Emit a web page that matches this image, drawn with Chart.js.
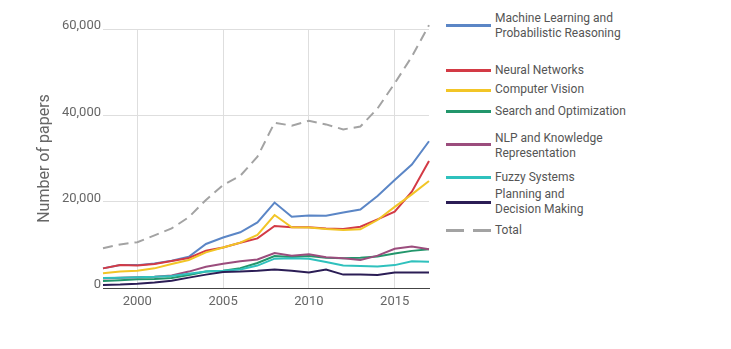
<!DOCTYPE html>
<html><head><meta charset="utf-8">
<script src="https://cdn.jsdelivr.net/npm/chart.js@4.4.0/dist/chart.umd.min.js"></script>
<style>
html,body{margin:0;padding:0;background:#fff;}
#wrap{position:relative;width:731px;height:349px;}
#cv{position:absolute;left:0;top:0;}
.lg{position:absolute;left:495px;font-family:Roboto,sans-serif;font-size:12px;line-height:14.5px;color:#555;white-space:nowrap;}
.ln{position:absolute;left:446px;width:45px;height:3px;}
</style></head><body>
<div id="wrap"><div id="box" style="position:absolute;left:0;top:0;width:440px;height:349px;"><canvas id="cv"></canvas></div></div>
<script>
const years = [1998,1999,2000,2001,2002,2003,2004,2005,2006,2007,2008,2009,2010,2011,2012,2013,2014,2015,2016,2017];
const mlProb   = [4550,5300,5300,5700,6300,7250,10200,11700,12900,15200,19800,16500,16800,16750,17500,18200,21300,25000,28600,34000];
const neural   = [4550,5300,5200,5550,6250,6950,8650,9400,10500,11500,14350,14100,14050,13800,13650,14200,15900,17700,22300,29400];
const vision   = [3400,3800,4000,4550,5550,6500,8250,9400,10500,12300,16900,14050,14000,13650,13450,13600,15750,18800,21700,24800];
const search   = [1600,1800,2000,2100,2300,3000,3800,4000,4600,5800,7400,7200,7400,7000,6900,7000,7300,8000,8600,9000];
const nlp      = [2200,2400,2500,2600,2900,3800,4900,5600,6200,6600,8100,7500,7800,7100,6900,6500,7500,9100,9600,9000];
const fuzzy    = [2300,2400,2500,2600,2800,3300,3800,4000,4300,5200,6800,6900,6800,6000,5200,5100,5000,5300,6200,6100];
const planning = [700,800,1000,1300,1700,2400,3100,3700,3800,4000,4300,4000,3600,4300,3100,3100,3000,3600,3600,3600];
const total    = [9200,10100,10600,12200,13800,16400,20400,23850,26000,30400,38300,37600,38750,37900,36750,37400,41600,47400,53600,60900];
const xTicks = [2000,2005,2010,2015];
const yTicks = [0,20000,40000,60000];

const series = [
  {label:'Machine Learning and Probabilistic Reasoning', data:mlProb, color:'#5b86c6'},
  {label:'Neural Networks', data:neural, color:'#d33a45'},
  {label:'Computer Vision', data:vision, color:'#f2c526'},
  {label:'Search and Optimization', data:search, color:'#22966b'},
  {label:'NLP and Knowledge Representation', data:nlp, color:'#9b4d7d'},
  {label:'Fuzzy Systems', data:fuzzy, color:'#2fc1bd'},
  {label:'Planning and Decision Making', data:planning, color:'#2b1d55'},
  {label:'Total', data:total, color:'#a3a3a3', dash:[10,6]}
];
const pts = arr => arr.map((v,i)=>({x:years[i], y:v}));
const datasets = series.map(s=>({
  label:s.label, data:pts(s.data), borderColor:s.color, backgroundColor:s.color,
  borderWidth:2, pointRadius:0, tension:0, borderDash:s.dash||[], clip:false, fill:false
})).reverse();

new Chart(document.getElementById('cv'), {
  type:'line',
  data:{datasets},
  options:{
    responsive:true, maintainAspectRatio:false, animation:false,
    layout:{padding:{left:35,right:11,top:29,bottom:0}},
    plugins:{legend:{display:false}, tooltip:{enabled:false}},
    scales:{
      x:{type:'linear', min:1998, max:2017,
        afterBuildTicks:s=>{s.ticks = xTicks.map(v=>({value:v}));},
        afterFit:s=>{s.height = 61;},
        grid:{color:'#dedede', drawTicks:false},
        border:{display:true, color:'#444', width:1},
        ticks:{padding:6, color:'#666', font:{family:'Roboto', size:13}, callback:v=>String(v)}
      },
      y:{min:0, max:60000,
        afterBuildTicks:s=>{s.ticks = yTicks.map(v=>({value:v}));},
        afterFit:s=>{s.width = 68;},
        grid:{color:'#dedede', drawTicks:false},
        border:{display:false},
        title:{display:true, text:'Number of papers', color:'#666', font:{family:'Roboto', size:16}, padding:{top:0,bottom:0}},
        ticks:{padding:2, labelOffset:-3, color:'#666', font:{family:'Roboto', size:13}, callback:v=>v.toLocaleString('en-US')}
      }
    }
  }
});

// legend
const legendItems = [
  {text:'Machine Learning and<br>Probabilistic Reasoning', top:11, line:25, color:'#5b86c6'},
  {text:'Neural Networks', top:63, line:70, color:'#d33a45'},
  {text:'Computer Vision', top:82, line:90, color:'#f2c526'},
  {text:'Search and Optimization', top:104, line:111, color:'#22966b'},
  {text:'NLP and Knowledge<br>Representation', top:131, line:144, color:'#9b4d7d'},
  {text:'Fuzzy Systems', top:170, line:177, color:'#2fc1bd'},
  {text:'Planning and<br>Decision Making', top:187, line:202, color:'#2b1d55'},
  {text:'Total', top:223, line:230, color:'#a3a3a3', dash:true}
];
const wrap = document.getElementById('wrap');
legendItems.forEach(it=>{
  const t = document.createElement('div'); t.className='lg'; t.style.top=it.top+'px'; t.innerHTML=it.text; wrap.appendChild(t);
  if(it.dash){
    [[446,18],[473,18]].forEach(([l,w])=>{const d=document.createElement('div'); d.className='ln'; d.style.left=l+'px'; d.style.width=w+'px'; d.style.top=(it.line-1.5)+'px'; d.style.background=it.color; wrap.appendChild(d);});
  } else {
    const d=document.createElement('div'); d.className='ln'; d.style.top=(it.line-1.5)+'px'; d.style.background=it.color; wrap.appendChild(d);
  }
});
</script></body></html>
